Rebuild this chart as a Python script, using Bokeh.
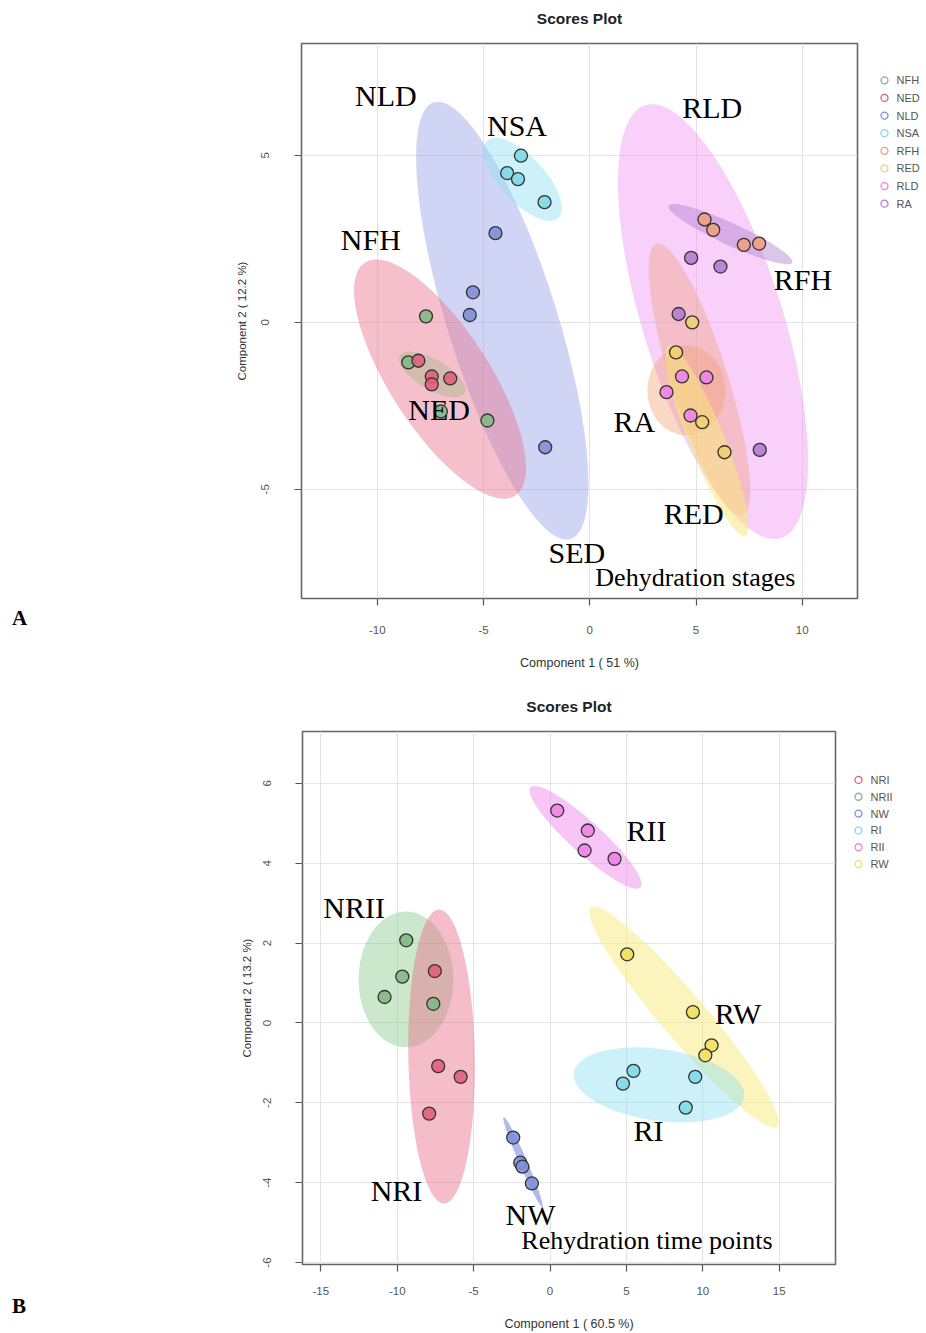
from bokeh.plotting import figure
from bokeh.models import Range1d, FactorRange, FixedTicker, ColumnDataSource, Div
from bokeh.layouts import column, row
from bokeh.embed import file_html
from bokeh.resources import INLINE
from bokeh.core.properties import value

# ---------------- Panel A : dehydration stages ----------------
a_groups = ["NFH", "NED", "NLD", "NSA", "RFH", "RED", "RLD", "RA"]
nfh_x = [-7.71, -8.54, -7.01, -4.82]
nfh_y = [0.18, -1.20, -2.67, -2.94]
ned_x = [-8.07, -7.44, -7.44, -6.57]
ned_y = [-1.15, -1.62, -1.86, -1.68]
nld_x = [-4.44, -5.50, -5.65, -2.10]
nld_y = [2.67, 0.90, 0.22, -3.74]
nsa_x = [-3.24, -3.89, -3.38, -2.13]
nsa_y = [4.99, 4.47, 4.29, 3.60]
rfh_x = [5.40, 5.81, 7.25, 7.97]
rfh_y = [3.08, 2.77, 2.32, 2.36]
red_x = [4.82, 4.06, 5.29, 6.34]
red_y = [0.00, -0.90, -2.99, -3.89]
rld_x = [4.34, 5.49, 3.61, 4.74]
rld_y = [-1.62, -1.65, -2.09, -2.79]
ra_x = [4.77, 6.15, 4.18, 8.00]
ra_y = [1.93, 1.67, 0.25, -3.82]
a_xs = [nfh_x, ned_x, nld_x, nsa_x, rfh_x, red_x, rld_x, ra_x]
a_ys = [nfh_y, ned_y, nld_y, nsa_y, rfh_y, red_y, rld_y, ra_y]
a_colors = ["#84b884", "#e0607a", "#8090d8", "#80d8e8", "#f0a080", "#f0d070", "#ee82e6", "#b87ad0"]

# confidence ellipses of panel A (centre, width, height, angle in degrees)
a_ell_cx = [-4.12, -7.05, -7.42, -3.16, 5.80, 5.16, 4.55, 5.51, 6.62]
a_ell_cy = [0.05, -1.70, -1.56, 4.28, 0.02, -1.72, -2.04, -3.54, 2.64]
a_ell_w = [21.54, 13.05, 3.53, 4.95, 21.35, 13.43, 3.68, 9.66, 6.41]
a_ell_h = [3.29, 2.99, 0.90, 1.35, 4.19, 1.70, 2.69, 1.05, 0.66]
a_ell_ang = [107.4, 122.8, 150.0, 132.7, 107.4, 107.5, 0.0, 112.0, 155.3]
a_ell_col = ["#8f9be8", "#e8708a", "#a8b888", "#90e0f0", "#f08ef0", "#f0a080", "#f0a070", "#f8e880", "#b080d0"]
a_ell_alpha = [0.42, 0.44, 0.45, 0.45, 0.42, 0.4, 0.4, 0.55, 0.45]

a_lab_text = ["NLD", "NSA", "NFH", "NED", "RLD", "RFH", "RA", "RED", "SED"]
a_lab_x = [-11.05, -4.84, -11.72, -8.54, 4.35, 8.66, 1.12, 3.48, -1.94]
a_lab_y = [6.78, 5.89, 2.47, -2.62, 6.43, 1.27, -2.97, -5.72, -6.88]
a_caption = "Dehydration stages"
a_cap_x, a_cap_y = 0.26, -7.64

a_xticks = [-10, -5, 0, 5, 10]
a_yticks = [-5, 0, 5]

# ---------------- Panel B : rehydration time points ----------------
b_groups = ["NRI", "NRII", "NW", "RI", "RII", "RW"]
nri_x = [-7.54, -7.32, -5.85, -7.91]
nri_y = [1.30, -1.08, -1.35, -2.27]
nrii_x = [-9.41, -9.67, -10.83, -7.64]
nrii_y = [2.07, 1.16, 0.65, 0.48]
nw_x = [-2.41, -1.95, -1.81, -1.19]
nw_y = [-2.87, -3.50, -3.60, -4.02]
ri_x = [5.46, 4.77, 9.50, 8.88]
ri_y = [-1.20, -1.52, -1.35, -2.12]
rii_x = [0.47, 2.47, 2.26, 4.22]
rii_y = [5.32, 4.82, 4.32, 4.11]
rw_x = [5.05, 9.35, 10.57, 10.16]
rw_y = [1.72, 0.27, -0.56, -0.81]
b_xs = [nri_x, nrii_x, nw_x, ri_x, rii_x, rw_x]
b_ys = [nri_y, nrii_y, nw_y, ri_y, rii_y, rw_y]
b_colors = ["#e0607a", "#84b884", "#8090d8", "#80d8e8", "#ee82e6", "#f0e060"]

b_ell_cx = [-9.43, -7.10, -1.77, 2.32, 8.76, 7.12]
b_ell_cy = [1.09, -0.84, -3.48, 4.65, 0.15, -1.55]
b_ell_w = [6.20, 4.35, 6.41, 9.73, 18.85, 11.26]
b_ell_h = [3.40, 7.36, 0.20, 0.80, 1.13, 1.80]
b_ell_ang = [0.0, 1.0, 113.3, 137.7, 130.4, -8.0]
b_ell_col = ["#8fcc8f", "#e8708a", "#8f9be8", "#f08ef0", "#f8ec90", "#90e0f0"]
b_ell_alpha = [0.45, 0.46, 0.7, 0.5, 0.6, 0.45]

b_lab_text = ["RII", "NRII", "RW", "RI", "NRI", "NW"]
b_lab_x = [5.01, -14.84, 10.77, 5.46, -11.74, -2.91]
b_lab_y = [4.83, 2.88, 0.24, -2.70, -4.20, -4.79]
b_caption = "Rehydration time points"
b_cap_x, b_cap_y = -1.88, -5.45

b_xticks = [-15, -10, -5, 0, 5, 10, 15]
b_yticks = [-6, -4, -2, 0, 2, 4, 6]

SANS = "Liberation Sans"
SERIF = "Liberation Serif"


def make_panel(width, height, borders, xr, yr, xticks, yticks, xlabel, ylabel,
               xs, ys, colors, ell, labels, caption, stand, margin):
    bl, br, bt, bb = borders
    xs_std, ys_std, ylab_std, title_std = stand
    p = figure(width=width, height=height, x_range=Range1d(*xr), y_range=Range1d(*yr),
               output_backend="svg", toolbar_location=None, frame_align=False, margin=margin,
               min_border_left=bl, min_border_right=br, min_border_top=bt, min_border_bottom=bb)
    p.background_fill_color = "white"
    p.border_fill_color = "white"
    p.outline_line_color = "#666666"
    p.outline_line_width = 1.6
    p.title.text = "Scores Plot"
    p.title.align = "center"
    p.title.vertical_align = "top"
    p.title.text_font = SANS
    p.title.text_font_size = "15.5px"
    p.title.text_font_style = "bold"
    p.title.text_color = "#222222"
    p.title.standoff = title_std

    p.xaxis.ticker = FixedTicker(ticks=xticks)
    p.yaxis.ticker = FixedTicker(ticks=yticks)
    p.xaxis.major_label_overrides = {t: str(t) for t in xticks}
    p.yaxis.major_label_overrides = {t: str(t) for t in yticks}
    for ax in (p.xaxis, p.yaxis):
        ax.axis_line_color = None
        ax.major_tick_line_color = "#555555"
        ax.major_tick_line_width = 1.2
        ax.major_tick_out = 7
        ax.major_tick_in = 0
        ax.minor_tick_line_color = None
        ax.major_label_text_font = SANS
        ax.major_label_text_font_size = "11.5px"
        ax.major_label_text_color = "#555555"
        ax.axis_label_text_font = SANS
        ax.axis_label_text_font_size = "11.5px"
        ax.axis_label_text_font_style = "normal"
        ax.axis_label_text_color = "#333333"
    p.xaxis.axis_label_text_font_size = "12.5px"
    p.xaxis.axis_label = xlabel
    p.yaxis.axis_label = ylabel
    p.xaxis.major_label_standoff = xs_std
    p.xaxis.axis_label_standoff = 19
    p.yaxis.major_label_orientation = "vertical"
    p.yaxis.major_label_standoff = ys_std
    p.yaxis.axis_label_standoff = ylab_std
    p.grid.grid_line_color = "#e4e4e4"
    p.grid.grid_line_width = 1

    cx, cy, w, h, ang, col, alp = ell
    p.ellipse(x=cx, y=cy, width=w, height=h, angle=ang, angle_units="deg",
              fill_color=col, fill_alpha=alp, line_color=None)

    for gx, gy, c in zip(xs, ys, colors):
        p.scatter(gx, gy, marker="circle", size=13, fill_color=c, fill_alpha=0.9,
                  line_color="#333333", line_width=1.3)

    lt, lx, ly = labels
    src = ColumnDataSource(dict(x=lx, y=ly, text=lt))
    p.text(x="x", y="y", text="text", source=src, text_font=value(SERIF),
           text_font_size=value("30px"), text_color="black", text_baseline="alphabetic")
    ct, cxx, cyy = caption
    p.text(x=[cxx], y=[cyy], text=[ct], text_font=value(SERIF),
           text_font_size=value("26px"), text_color="black", text_baseline="alphabetic")
    return p


def make_legend(groups, colors, width, height, top, rows_h, sym_x, txt_x):
    # legend drawn as its own small plot; rows come from a categorical axis
    lf = figure(width=width, height=height, x_range=Range1d(0, 1),
                y_range=FactorRange(factors=list(reversed(groups)), range_padding=0),
                output_backend="svg", toolbar_location=None, frame_align=False,
                x_axis_location=None, y_axis_location=None,
                min_border_left=0, min_border_right=0,
                min_border_top=top, min_border_bottom=height - top - rows_h)
    lf.outline_line_color = None
    lf.grid.visible = False
    lf.background_fill_color = "white"
    lf.border_fill_color = "white"
    src = ColumnDataSource(dict(g=groups, c=colors, sx=[sym_x] * len(groups), tx=[txt_x] * len(groups)))
    lf.scatter(x="sx", y="g", source=src, marker="circle", size=7, fill_color=None,
               line_color="c", line_width=1.3)
    lf.text(x="tx", y="g", text="g", source=src, text_font=value(SANS),
            text_font_size=value("11px"), text_color="#555555", text_baseline="middle")
    return lf


def letter_div(letter, top):
    html = ('<div style="position:relative; left:12px; top:%dpx; font-family:\'Liberation Serif\';'
            ' font-weight:bold; font-size:21px; line-height:28px; color:black;">%s</div>' % (top, letter))
    return html


pa = make_panel(829, 687, (271, 2, 50, 82), (-13.57, 12.6), (-8.27, 8.35),
                a_xticks, a_yticks, "Component 1 ( 51 %)", "Component 2 ( 12.2 %)",
                a_xs, a_ys, a_colors,
                (a_ell_cx, a_ell_cy, a_ell_w, a_ell_h, a_ell_ang, a_ell_col, a_ell_alpha),
                (a_lab_text, a_lab_x, a_lab_y), (a_caption, a_cap_x, a_cap_y),
                (20, 25, 11, 30), (-7, 0, 0, 0))
la = make_legend(a_groups, a_colors, 67, 680, 71, 141, (884 - 859) / 67, (896 - 859) / 67)

pb = make_panel(807, 653, (272, 2, 51, 69), (-16.2, 18.68), (-6.05, 7.3),
                b_xticks, b_yticks, "Component 1 ( 60.5 %)", "Component 2 ( 13.2 %)",
                b_xs, b_ys, b_colors,
                (b_ell_cx, b_ell_cy, b_ell_w, b_ell_h, b_ell_ang, b_ell_col, b_ell_alpha),
                (b_lab_text, b_lab_x, b_lab_y), (b_caption, b_cap_x, b_cap_y),
                (15, 24, 8, 30), 0)
lb = make_legend(b_groups, b_colors, 89, 653, 91, 101, (858 - 837) / 89, (870 - 837) / 89)

div_a = Div(text=letter_div("A", 604), width=30, height=680, margin=0)
div_b = Div(text=letter_div("B", 612), width=30, height=653, margin=0)

layout = column(row(div_a, pa, la, spacing=0), row(div_b, pb, lb, spacing=0), spacing=0)
open("out.html", "w").write(file_html(layout, INLINE))
